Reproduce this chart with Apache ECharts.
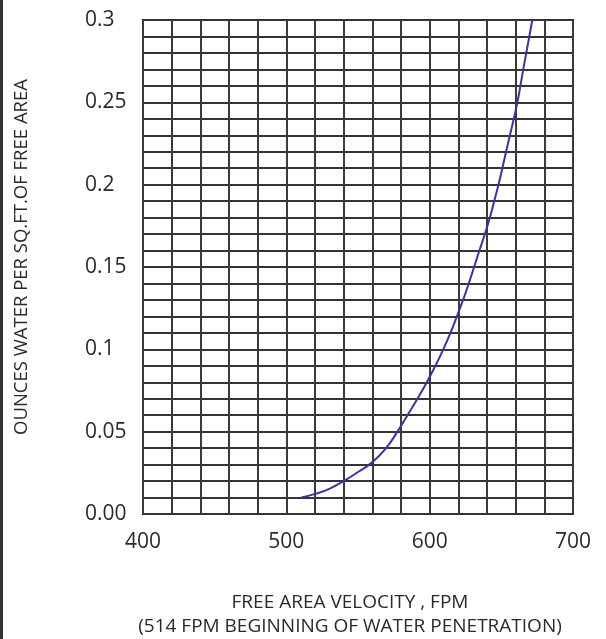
<!DOCTYPE html>
<html>
<head>
<meta charset="utf-8">
<script src="https://cdn.jsdelivr.net/npm/echarts@6/dist/echarts.min.js"></script>
<style>html,body{margin:0;padding:0;background:#fff}#c{width:606px;height:639px}</style>
</head>
<body>
<div id="c"></div>
<script>
// Data
const velocityFPM = [510.5, 520, 530, 540, 550, 560, 570, 577.5, 584.5, 591.5, 598, 604, 609.5, 614.5, 619, 623.3, 627.3, 631, 634.7, 638.5, 642, 645, 648, 650.7, 653.3, 656, 658.7, 661.2, 663.3, 665.3, 667.4, 669.5, 671.6];
const ouncesWater = [0.01, 0.0122, 0.0153, 0.02, 0.0255, 0.0315, 0.0405, 0.05, 0.06, 0.07, 0.08, 0.09, 0.10, 0.11, 0.12, 0.13, 0.14, 0.15, 0.16, 0.17, 0.18, 0.19, 0.20, 0.21, 0.22, 0.23, 0.24, 0.25, 0.26, 0.27, 0.28, 0.29, 0.30];
const xTickLabels = ['400', '500', '600', '700'];
const yTickLabels = ['0.00', '0.05', '0.1', '0.15', '0.2', '0.25', '0.3'];
const yAxisTitle = 'OUNCES WATER PER SQ.FT.OF FREE AREA';
const xAxisTitle = 'FREE AREA VELOCITY , FPM\n(514 FPM BEGINNING OF WATER PENETRATION)';

const chart = echarts.init(document.getElementById('c'), null, {renderer: 'canvas'});
const font = '"Open Sans", "Noto Sans", sans-serif';
chart.setOption({
  animation: false,
  backgroundColor: '#fff',
  grid: {left: 143, right: 33, top: 20, bottom: 125, outerBoundsMode: 'none', containLabel: false,
         show: true, borderColor: '#2b2b2b', borderWidth: 2},
  xAxis: {
    type: 'value', min: 400, max: 700, interval: 20,
    axisLine: {show: false}, axisTick: {show: false},
    splitLine: {show: true, lineStyle: {color: '#3a3a3a', width: 2}},
    axisLabel: {
      margin: 18, fontSize: 21, color: '#2a2a2a', fontFamily: font,
      formatter: v => { const i = xTickLabels.indexOf(String(Math.round(v))); return i >= 0 ? xTickLabels[i] : ''; }
    },
    name: xAxisTitle, nameLocation: 'middle', nameGap: 77,
    nameTextStyle: {fontSize: 19, color: '#2a2a2a', fontFamily: font, lineHeight: 24, padding: [0, 16, 0, 0]}
  },
  yAxis: {
    type: 'value', min: 0, max: 0.3, interval: 0.01,
    axisLine: {show: false}, axisTick: {show: false},
    splitLine: {show: true, lineStyle: {color: '#333', width: 2}},
    axisLabel: {
      margin: 58, align: 'left', fontSize: 21, color: '#2a2a2a', fontFamily: font,
      formatter: v => { const k = Math.round(v * 100); return k % 5 === 0 ? yTickLabels[k / 5] : ''; }
    }
  },
  series: [{
    type: 'line', smooth: 0.5, symbol: 'none',
    lineStyle: {color: '#3a3596', width: 2},
    data: velocityFPM.map((v, i) => [v, ouncesWater[i]])
  }],
  graphic: [
    {type: 'rect', shape: {x: 0, y: 0, width: 3, height: 639}, style: {fill: '#333'}},
    {type: 'text', x: 22, y: 257, rotation: Math.PI / 2,
     style: {text: yAxisTitle, fontSize: 18.5, fontFamily: font, fill: '#2a2a2a', align: 'center', verticalAlign: 'middle'}}
  ]
});
</script>
</body>
</html>
